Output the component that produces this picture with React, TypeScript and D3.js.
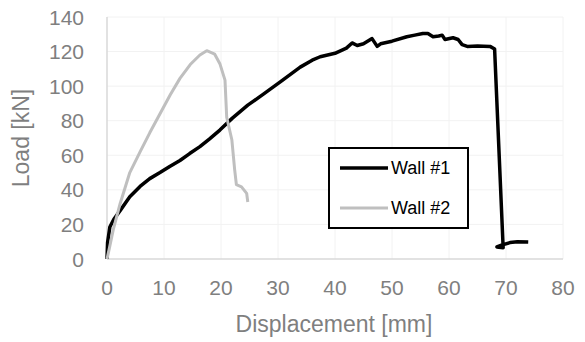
import React, { useEffect, useRef } from 'react';
import * as d3 from 'd3';

// Wall #1 load-displacement curve [displacement mm, load kN]
const wall1Disp = [0, 0.1, 0.5, 1.2, 2.3, 4, 5.8, 7.5, 9.3, 11, 12.8, 14.5, 16.3, 18, 19.8, 22, 24.7, 27.5, 30.4, 33.9, 36, 37.4, 40, 42, 43, 43.9, 45, 46.5, 47.4, 48, 50, 52.6, 54, 55.4, 56.3, 57.2, 58.2, 58.8, 59.3, 60.7, 61.6, 62.3, 63.2, 65, 67.2, 68, 69.5, 68.4, 69.2, 70.7, 72, 73.9];
const wall1Load = [0, 9.6, 18.5, 23, 28, 36, 42, 46.5, 50, 53.5, 57, 61, 65, 69.5, 74.6, 81.5, 89, 95.5, 102.5, 111, 115, 117, 119, 122, 125, 123.5, 124.5, 127.5, 123, 124.5, 126, 128.6, 129.5, 130.5, 130.5, 128.6, 129, 129.5, 127, 128, 127, 124, 123, 123.2, 123, 121.5, 6.5, 7, 8, 9.5, 10, 9.8];

// Wall #2
const wall2Disp = [0, 0.4, 1.1, 2.3, 4, 5.8, 7.5, 9.3, 11.1, 12.8, 14.6, 16.3, 17.5, 18.9, 19.8, 20.7, 21, 21.9, 22.4, 22.7, 23.6, 24.5, 24.7];
const wall2Load = [0, 6, 17, 32, 50, 62, 73, 84, 95, 104.5, 112.5, 118, 120.5, 118.5, 113, 103.5, 82, 69, 51.5, 43, 41.7, 38, 33];

const xTicks = [0, 10, 20, 30, 40, 50, 60, 70, 80];
const yTicks = [0, 20, 40, 60, 80, 100, 120, 140];

const seriesNames = ['Wall #1', 'Wall #2'];
const seriesColors = ['#000000', '#bfbfbf'];

const App = () => {
    const svgRef = useRef<SVGSVGElement>(null);

    useEffect(() => {
        const svg = d3.select(svgRef.current);
        svg.selectAll('*').remove();

        const x = d3.scaleLinear().domain([0, 80]).range([107, 563]);
        const y = d3.scaleLinear().domain([0, 140]).range([259, 17]);
        const textColor = '#7f7f7f';
        const font = '"Liberation Sans", Arial, sans-serif';

        // gridlines
        svg.append('g').selectAll('line')
            .data(yTicks.slice(1))
            .enter().append('line')
            .attr('x1', x(0)).attr('x2', x(80))
            .attr('y1', d => y(d)).attr('y2', d => y(d))
            .attr('stroke', '#f2f2f2').attr('stroke-width', 1);
        svg.append('g').selectAll('line')
            .data(xTicks.slice(1))
            .enter().append('line')
            .attr('x1', d => x(d)).attr('x2', d => x(d))
            .attr('y1', y(0)).attr('y2', y(140))
            .attr('stroke', '#f2f2f2').attr('stroke-width', 1);

        // axis lines
        svg.append('line')
            .attr('x1', x(0)).attr('x2', x(80))
            .attr('y1', y(0)).attr('y2', y(0))
            .attr('stroke', '#d9d9d9').attr('stroke-width', 1.5);
        svg.append('line')
            .attr('x1', x(0)).attr('x2', x(0))
            .attr('y1', y(0)).attr('y2', y(140))
            .attr('stroke', '#d9d9d9').attr('stroke-width', 1.5);

        // tick labels
        svg.append('g').selectAll('text')
            .data(yTicks)
            .enter().append('text')
            .attr('x', 84).attr('y', d => y(d))
            .attr('dy', '0.36em')
            .attr('text-anchor', 'end')
            .style('font-family', font).style('font-size', '21px')
            .style('fill', textColor)
            .text(d => d);
        svg.append('g').selectAll('text')
            .data(xTicks)
            .enter().append('text')
            .attr('x', d => x(d)).attr('y', 295)
            .attr('text-anchor', 'middle')
            .style('font-family', font).style('font-size', '21px')
            .style('fill', textColor)
            .text(d => d);

        // axis titles
        svg.append('text')
            .attr('x', 334).attr('y', 332)
            .attr('text-anchor', 'middle')
            .style('font-family', font).style('font-size', '23px')
            .style('fill', textColor)
            .text('Displacement [mm]');
        svg.append('text')
            .attr('transform', 'translate(29,138) rotate(-90)')
            .attr('text-anchor', 'middle')
            .style('font-family', font).style('font-size', '23px')
            .style('fill', textColor)
            .text('Load [kN]');

        // curves
        const line = d3.line<[number, number]>()
            .x(d => x(d[0]))
            .y(d => y(d[1]));
        const series = [
            wall1Disp.map((d, i) => [d, wall1Load[i]] as [number, number]),
            wall2Disp.map((d, i) => [d, wall2Load[i]] as [number, number]),
        ];
        // wall #1 first, wall #2 drawn on top
        svg.append('path')
            .attr('d', line(series[0]))
            .attr('fill', 'none')
            .attr('stroke', seriesColors[0])
            .attr('stroke-width', 3.5)
            .attr('stroke-linejoin', 'round');
        svg.append('path')
            .attr('d', line(series[1]))
            .attr('fill', 'none')
            .attr('stroke', seriesColors[1])
            .attr('stroke-width', 3)
            .attr('stroke-linejoin', 'round');

        // legend
        const legend = svg.append('g');
        legend.append('rect')
            .attr('x', 329).attr('y', 148)
            .attr('width', 139).attr('height', 80)
            .attr('fill', 'white')
            .attr('stroke', '#000').attr('stroke-width', 2);
        const items = legend.selectAll('.legend-item')
            .data(seriesNames)
            .enter().append('g')
            .attr('transform', (d, i) => `translate(0, ${168 + i * 40})`);
        items.append('line')
            .attr('x1', 340).attr('x2', 388)
            .attr('y1', 0).attr('y2', 0)
            .attr('stroke', (d, i) => seriesColors[i])
            .attr('stroke-width', (d, i) => i === 0 ? 3.5 : 3);
        items.append('text')
            .attr('x', 391).attr('y', 0)
            .attr('dy', '0.36em')
            .style('font-family', font).style('font-size', '18px')
            .style('fill', '#000')
            .text(d => d);
    }, []);

    return (
        <svg ref={svgRef} width={585} height={342}
            style={{ position: 'absolute', left: 0, top: 0, background: 'white' }}></svg>
    );
};

export default App;
